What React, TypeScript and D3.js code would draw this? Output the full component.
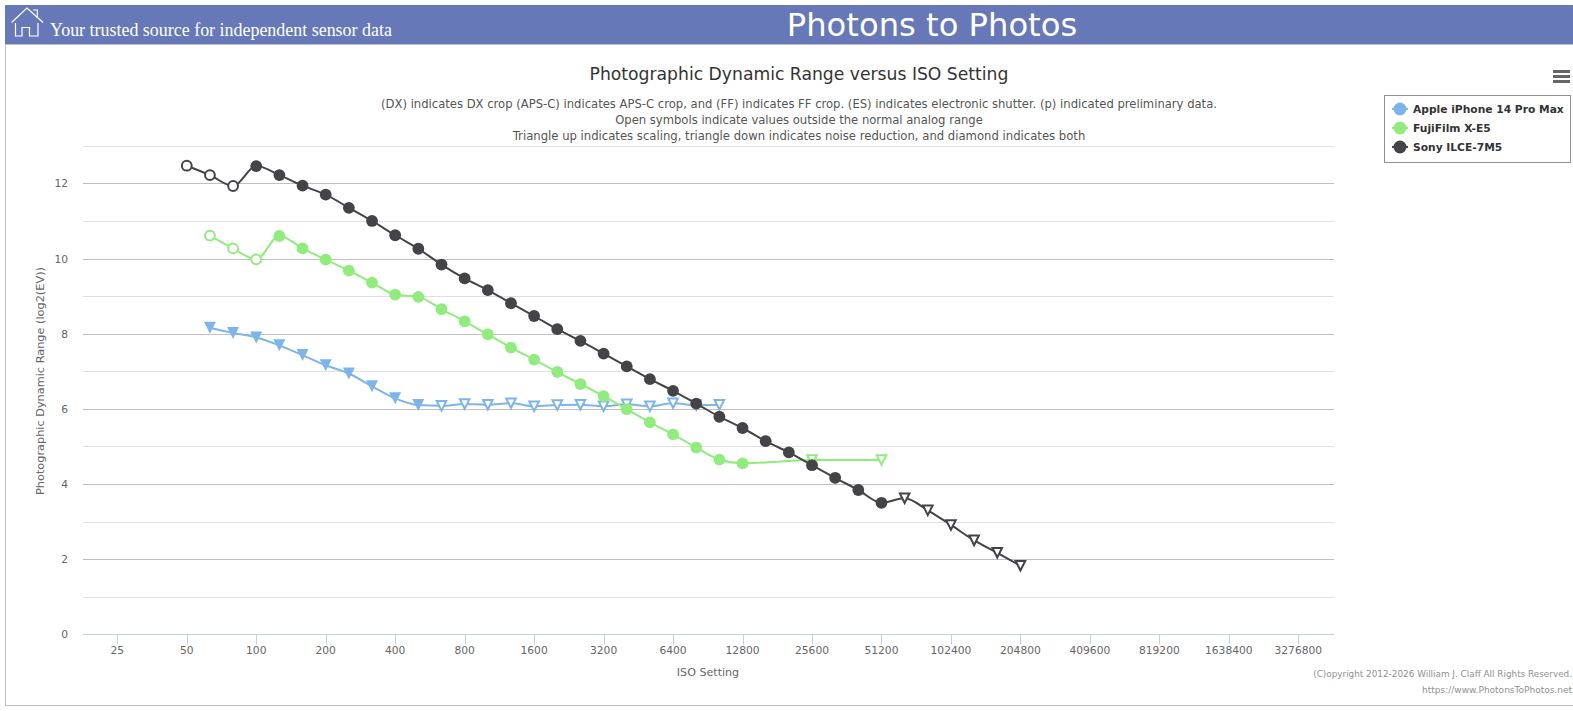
import React from "react";
import * as d3 from "d3";

const tickIsos = [25, 50, 100, 200, 400, 800, 1600, 3200, 6400, 12800, 25600, 51200, 102400, 204800, 409600, 819200, 1638400, 3276800];
const sonyIso = [50, 63, 80, 100, 125, 160, 200, 250, 320, 400, 500, 640, 800, 1000, 1250, 1600, 2000, 2500, 3200, 4000, 5000, 6400, 8000, 10000, 12800, 16000, 20000, 25600, 32000, 40000, 51200, 64000, 80000, 102400, 128000, 160000, 204800];
const sonyDr = [12.47, 12.22, 11.93, 12.46, 12.22, 11.94, 11.7, 11.35, 11.0, 10.62, 10.26, 9.84, 9.47, 9.16, 8.81, 8.47, 8.12, 7.81, 7.47, 7.13, 6.79, 6.48, 6.14, 5.79, 5.49, 5.14, 4.84, 4.5, 4.165, 3.84, 3.5, 3.62, 3.3, 2.91, 2.5, 2.17, 1.825];
const sonyKind = ["o", "o", "o", ...Array(28).fill("c"), "t", "t", "t", "t", "t", "t"];
const fujiIso = [63, 80, 100, 125, 160, 200, 250, 320, 400, 500, 640, 800, 1000, 1250, 1600, 2000, 2500, 3200, 4000, 5000, 6400, 8000, 10000, 12800, 25600, 51200];
const fujiDr = [10.61, 10.27, 9.98, 10.6, 10.27, 9.97, 9.68, 9.36, 9.04, 8.98, 8.65, 8.33, 7.98, 7.63, 7.31, 6.98, 6.66, 6.34, 5.99, 5.64, 5.32, 4.97, 4.65, 4.55, 4.64, 4.64];
const fujiKind = ["o", "o", "o", ...Array(21).fill("c"), "t", "t"];
const appleIso = [63, 80, 100, 125, 160, 200, 250, 320, 400, 500, 640, 800, 1000, 1250, 1600, 2000, 2500, 3200, 4000, 5000, 6400, 8000, 10000];
const appleDr = [8.16, 8.02, 7.9, 7.69, 7.43, 7.16, 6.94, 6.6, 6.28, 6.1, 6.08, 6.13, 6.11, 6.15, 6.07, 6.1, 6.11, 6.07, 6.12, 6.07, 6.15, 6.1, 6.11];
const appleKind = [...Array(10).fill("T"), ...Array(13).fill("t")];

const seriesList = [
  { name: "Apple iPhone 14 Pro Max", color: "#7cb5ec", iso: appleIso, dr: appleDr, kind: appleKind },
  { name: "FujiFilm X-E5", color: "#90ed7d", iso: fujiIso, dr: fujiDr, kind: fujiKind },
  { name: "Sony ILCE-7M5", color: "#434348", iso: sonyIso, dr: sonyDr, kind: sonyKind },
];
const subtitleLines = [
  "(DX) indicates DX crop (APS-C) indicates APS-C crop, and (FF) indicates FF crop. (ES) indicates electronic shutter. (p) indicated preliminary data.",
  "Open symbols indicate values outside the normal analog range",
  "Triangle up indicates scaling, triangle down indicates noise reduction, and diamond indicates both",
];
const yMajor = [0, 2, 4, 6, 8, 10, 12];
const yMinor = [1, 3, 5, 7, 9, 11, 13];

const FONT = "'DejaVu Sans', sans-serif";
const x = d3.scaleLog().base(2).domain([25, 3276800]).range([117.3, 1298.3]);
const y = d3.scaleLinear().domain([0, 13]).range([634.3, 145.8]);
// The source plots nominal ISO settings on exact third-stop positions.
const thirdStop = (iso: number) => 100 * Math.pow(2, Math.round(3 * Math.log2(iso / 100)) / 3);
const crisp = (v: number) => Math.round(v) + 0.5;

function Marker({ px, py, kind, color }: { px: number; py: number; kind: string; color: string }) {
  if (kind === "c") return <circle cx={px} cy={py} r={5.9} fill={color} />;
  if (kind === "o") return <circle cx={px} cy={py} r={4.9} fill="#fff" stroke={color} strokeWidth={2} />;
  const r = 6;
  const d = `M${px - r},${py - r}L${px + r},${py - r}L${px},${py + r}Z`;
  if (kind === "T") return <path d={d} fill={color} />;
  const q = 4.8;
  return <path d={`M${px - q},${py - q}L${px + q},${py - q}L${px},${py + q}Z`} fill="#fff" stroke={color} strokeWidth={2} />;
}

export default function App() {
  const line = d3.line<[number, number]>().curve(d3.curveMonotoneX);
  return (
    <svg width={1573} height={711} style={{ position: "absolute", left: 0, top: 0, fontFamily: FONT }}>
      <rect x={0} y={0} width={1573} height={711} fill="#fff" />
      <rect x={5.5} y={44.5} width={1570} height={661} fill="#fff" stroke="#c0c0c0" strokeWidth={1} />
      <rect x={5} y={5} width={1568} height={39} fill="#6678b8" />
      <g fill="none" stroke="#fff" strokeWidth={1.2}>
        <path d="M11.5,22.5L27,8L43,22.5" />
        <path d="M33,10H37.3V18" />
        <path d="M15.5,23V36H22V27.5H29.5V36H38V23" />
      </g>
      <text x={50} y={36} fontFamily="'Liberation Serif', serif" fontSize={17.95} fill="#fff">Your trusted source for independent sensor data</text>
      <text x={932} y={36} textAnchor="middle" fontSize={32.2} fill="#fff">Photons to Photos</text>

      <text x={799} y={80} textAnchor="middle" fontSize={17.2} fill="#333">Photographic Dynamic Range versus ISO Setting</text>
      {subtitleLines.map((t, i) => (
        <text key={i} x={799} y={108 + i * 16} textAnchor="middle" fontSize={i === 2 ? 11.65 : 11.6} fill="#555">{t}</text>
      ))}

      {yMinor.map((v) => (
        <line key={v} x1={83} x2={1334} y1={crisp(y(v))} y2={crisp(y(v))} stroke="#e0e0e0" />
      ))}
      {yMajor.filter((v) => v > 0).map((v) => (
        <line key={v} x1={83} x2={1334} y1={crisp(y(v))} y2={crisp(y(v))} stroke="#c0c0c0" />
      ))}
      {yMajor.map((v) => (
        <text key={v} x={68} y={y(v) + 4} textAnchor="end" fontSize={10.7} fill="#666">{v}</text>
      ))}
      <text transform={`translate(44,${y(6.74)}) rotate(-90)`} textAnchor="middle" fontSize={11.3} fill="#666">Photographic Dynamic Range (log2(EV))</text>

      <line x1={83} x2={1334} y1={crisp(y(0))} y2={crisp(y(0))} stroke="#c0d0e0" />
      {tickIsos.map((t) => (
        <g key={t}>
          <line x1={crisp(x(t))} x2={crisp(x(t))} y1={y(0)} y2={y(0) + 10} stroke="#c0d0e0" />
          <text x={x(t)} y={y(0) + 20} textAnchor="middle" fontSize={10.7} fill="#666">{t}</text>
        </g>
      ))}
      <text x={708} y={676} textAnchor="middle" fontSize={11.1} fill="#666">ISO Setting</text>

      {seriesList.map((s) => {
        const pts = s.iso.map((iso, i) => [x(thirdStop(iso)), y(s.dr[i])] as [number, number]);
        return (
          <g key={s.name}>
            <path d={line(pts) ?? ""} fill="none" stroke={s.color} strokeWidth={2} />
            {pts.map((p, i) => (
              <Marker key={i} px={p[0]} py={p[1]} kind={s.kind[i]} color={s.color} />
            ))}
          </g>
        );
      })}

      <rect x={1384.5} y={95.5} width={186} height={67} fill="#fff" stroke="#909090" />
      {seriesList.map((s, i) => (
        <g key={s.name}>
          <line x1={1392} x2={1408} y1={109 + i * 19} y2={109 + i * 19} stroke={s.color} strokeWidth={2} />
          <circle cx={1400} cy={109 + i * 19} r={6.5} fill={s.color} />
          <text x={1413} y={113 + i * 19} fontSize={10.7} fontWeight="bold" fill="#333">{s.name}</text>
        </g>
      ))}
      <g stroke="#666" strokeWidth={3}>
        <line x1={1553} x2={1570} y1={71.5} y2={71.5} />
        <line x1={1553} x2={1570} y1={76.5} y2={76.5} />
        <line x1={1553} x2={1570} y1={81.5} y2={81.5} />
      </g>
      <text x={1572} y={677} textAnchor="end" fontSize={8.85} fill="#909090">(C)opyright 2012-2026 William J. Claff All Rights Reserved.</text>
      <text x={1572} y={693} textAnchor="end" fontSize={9} fill="#909090">https://www.PhotonsToPhotos.net</text>
    </svg>
  );
}
